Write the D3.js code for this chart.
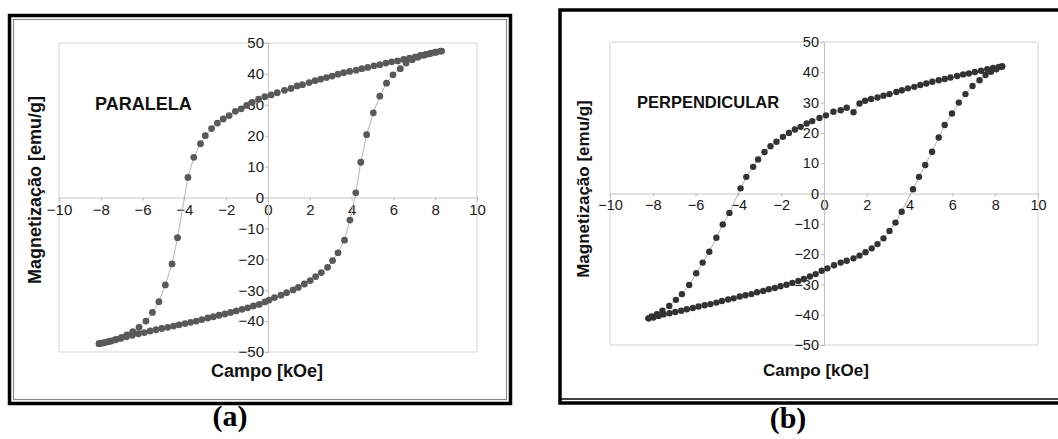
<!DOCTYPE html>
<html lang="pt">
<head>
<meta charset="UTF-8">
<title>Curvas de histerese - paralela e perpendicular</title>
<script src="https://d3js.org/d3.v7.min.js"></script>
<style>
  body { margin: 0; background: #fff; }
  .tick text { font-family: "Liberation Sans", Arial, sans-serif; fill: #1a1a1a; }
  .tick line { stroke: #b8b8b8; }
  .title { font-family: "Liberation Sans", Arial, sans-serif; font-weight: bold; fill: #111; }
  .caption { font-family: "Liberation Serif", "Times New Roman", serif; font-weight: bold; fill: #000; }
  .loop { fill: none; stroke: #b4b4b4; stroke-width: 1; }
</style>
</head>
<body>
<svg id="fig" width="1058" height="439"></svg>
<script>
// tick values shared by both panels
const xTicks = [-10, -8, -6, -4, -2, 0, 2, 4, 6, 8, 10];
const yTicks = [-50, -40, -30, -20, -10, 0, 10, 20, 30, 40, 50];

// (a) PARALELA - [campo kOe, magnetizacao emu/g], branch coming down from +H
const paralelaDesc = [
  [8.31, 47.4], [8.05, 47.0], [7.8, 46.7], [7.55, 46.3], [7.3, 46.0], [7.05, 45.5], [6.77, 45.1],
  [6.49, 44.7], [6.2, 44.2], [5.92, 43.9], [5.64, 43.5], [5.35, 43.0], [5.07, 42.6], [4.77, 42.1],
  [4.49, 41.7], [4.22, 41.2], [3.91, 40.8], [3.62, 40.4], [3.35, 39.9], [3.07, 39.3], [2.8, 38.8],
  [2.52, 38.3], [2.25, 37.8], [1.97, 37.2], [1.65, 36.5], [1.39, 36.1], [1.1, 35.3], [0.79, 34.7],
  [0.44, 33.9], [0.15, 33.2], [-0.15, 32.6], [-0.45, 31.8], [-0.75, 30.8], [-1.02, 29.8],
  [-1.28, 28.7], [-1.56, 27.9], [-1.86, 26.5], [-2.14, 25.4], [-2.42, 24.1], [-2.7, 22.3],
  [-3.0, 20.0], [-3.23, 17.4], [-3.55, 13.0], [-3.83, 6.5], [-4.33, -13.0], [-4.59, -21.5],
  [-4.91, -28.3], [-5.22, -33.7], [-5.53, -37.2], [-5.84, -40.0], [-6.17, -42.0], [-6.47, -43.4],
  [-6.75, -44.5], [-7.0, -45.3], [-7.25, -45.9], [-7.5, -46.4], [-7.72, -46.8], [-7.92, -47.1],
  [-8.08, -47.3]
];
// (a) branch going back up from -H
const paralelaAsc = [
  [-8.08, -47.3], [-7.85, -47.0], [-7.6, -46.6], [-7.32, -46.1], [-7.05, -45.6], [-6.77, -45.1],
  [-6.49, -44.6], [-6.2, -44.1], [-5.92, -43.7], [-5.64, -43.2], [-5.36, -42.8], [-5.08, -42.4],
  [-4.8, -42.0], [-4.52, -41.6], [-4.25, -41.2], [-3.97, -40.8], [-3.7, -40.4], [-3.43, -40.0],
  [-3.16, -39.5], [-2.88, -39.0], [-2.61, -38.6], [-2.34, -38.1], [-2.06, -37.7], [-1.79, -37.2],
  [-1.52, -36.7], [-1.24, -36.2], [-0.97, -35.7], [-0.7, -35.1], [-0.42, -34.6], [-0.15, -33.8],
  [0.05, -33.2], [0.31, -32.4], [0.62, -31.6], [0.89, -30.8], [1.2, -29.9], [1.45, -29.1],
  [1.74, -28.0], [2.02, -26.9], [2.28, -25.6], [2.55, -24.3], [2.85, -22.6], [3.09, -20.4],
  [3.35, -17.9], [3.66, -13.8], [3.92, -7.3], [4.2, 1.5], [4.44, 11.4], [4.72, 20.3], [5.04, 27.4],
  [5.35, 32.8], [5.67, 37.0], [5.98, 39.7], [6.33, 41.7], [6.61, 43.5], [6.9, 44.6], [7.17, 45.4],
  [7.45, 46.0], [7.72, 46.5], [8.0, 47.0], [8.25, 47.4]
];

// (b) PERPENDICULAR
const perpDesc = [
  [8.33, 42.0], [8.17, 41.8], [7.9, 41.4], [7.63, 41.0], [7.34, 40.5], [7.05, 40.1], [6.77, 39.6],
  [6.5, 39.3], [6.22, 38.8], [5.91, 38.3], [5.64, 37.8], [5.36, 37.4], [5.06, 36.9], [4.78, 36.3],
  [4.5, 35.8], [4.22, 35.2], [3.92, 34.7], [3.64, 34.1], [3.38, 33.5], [3.06, 32.8], [2.78, 32.3],
  [2.5, 31.7], [2.2, 31.2], [1.92, 30.6], [1.66, 29.7], [1.38, 26.8], [1.06, 28.3], [0.78, 27.5],
  [0.44, 27.0], [0.09, 25.8], [-0.21, 24.9], [-0.55, 23.9], [-0.81, 23.1], [-1.09, 22.0],
  [-1.36, 21.1], [-1.64, 20.0], [-1.92, 18.7], [-2.22, 17.1], [-2.5, 15.6], [-2.78, 13.7],
  [-3.08, 11.2], [-3.31, 8.8], [-3.63, 5.5], [-3.9, 1.7], [-4.42, -6.4], [-4.73, -10.2],
  [-5.03, -14.6], [-5.36, -19.2], [-5.67, -22.8], [-5.97, -26.3], [-6.3, -30.2], [-6.64, -33.2],
  [-6.92, -35.1], [-7.23, -37.1], [-7.55, -38.7], [-7.81, -39.8], [-8.05, -40.6], [-8.2, -41.2]
];
const perpAsc = [
  [-8.2, -41.2], [-7.97, -40.9], [-7.73, -40.4], [-7.5, -39.9], [-7.22, -39.5], [-6.95, -39.1],
  [-6.67, -38.7], [-6.41, -38.2], [-6.13, -37.8], [-5.86, -37.3], [-5.58, -36.9], [-5.31, -36.5],
  [-5.03, -36.0], [-4.77, -35.5], [-4.48, -35.0], [-4.22, -34.6], [-3.94, -34.0], [-3.67, -33.6],
  [-3.39, -33.2], [-3.13, -32.6], [-2.84, -32.2], [-2.58, -31.6], [-2.3, -31.2], [-2.03, -30.6],
  [-1.75, -30.1], [-1.48, -29.5], [-1.2, -28.9], [-0.94, -28.2], [-0.66, -27.4], [-0.39, -26.6],
  [-0.11, -25.5], [0.16, -24.7], [0.47, -23.7], [0.78, -22.8], [1.06, -22.2], [1.38, -21.4],
  [1.66, -20.5], [1.94, -19.4], [2.23, -18.1], [2.5, -16.7], [2.78, -14.8], [3.06, -12.4],
  [3.34, -9.6], [3.63, -6.0], [4.16, 1.4], [4.44, 5.5], [4.73, 9.4], [5.05, 13.8], [5.36, 18.5],
  [5.64, 22.6], [5.98, 26.4], [6.3, 30.0], [6.61, 32.8], [6.94, 35.5], [7.27, 37.4], [7.55, 39.1],
  [7.8, 40.2], [8.05, 41.0], [8.3, 41.8]
];

const svg = d3.select("#fig");

const panels = [
  {
    name: "PARALELA", caption: "(a)", series: [paralelaDesc, paralelaAsc],
    frame: { x: 9.5, y: 15.5, w: 501, h: 388 }, inner: 4,
    plot: { left: 59, right: 477, top: 43, bottom: 352 },
    tickFont: 15, tickSize: 3, xPad: 4, yPad: 1,
    label: { x: 95, y: 110, size: 18 },
    xTitle: { x: 267, y: 377, size: 18 }, yTitle: { x: 35, y: 190, size: 18 },
    cap: { x: 230, y: 426 }, dot: "#595959", r: 3.4
  },
  {
    name: "PERPENDICULAR", caption: "(b)", series: [perpDesc, perpAsc],
    frame: { x: 560, y: 10, w: 510, h: 393 }, inner: 0,
    plot: { left: 610, right: 1038, top: 42, bottom: 345 },
    tickFont: 14.5, tickSize: 3, xPad: 3, yPad: 2,
    label: { x: 637, y: 108, size: 16.5 },
    xTitle: { x: 816, y: 376, size: 17 }, yTitle: { x: 583, y: 189, size: 17 },
    cap: { x: 788, y: 428 }, dot: "#333333", r: 3.2
  }
];

panels.forEach(p => {
  const g = svg.append("g");

  // outer black frame
  g.append("rect")
    .attr("x", p.frame.x).attr("y", p.frame.y)
    .attr("width", p.frame.w).attr("height", p.frame.h)
    .attr("fill", "none").attr("stroke", "#000").attr("stroke-width", 3.5);
  if (p.inner) {
    g.append("rect")
      .attr("x", p.frame.x + p.inner).attr("y", p.frame.y + p.inner)
      .attr("width", p.frame.w - 2 * p.inner).attr("height", p.frame.h - 2 * p.inner)
      .attr("fill", "none").attr("stroke", "#8a8a8a").attr("stroke-width", 1.2);
  } else {
    g.append("line")
      .attr("x1", p.frame.x).attr("x2", 1058)
      .attr("y1", p.frame.y + p.frame.h - 4).attr("y2", p.frame.y + p.frame.h - 4)
      .attr("stroke", "#000").attr("stroke-width", 1.3);
  }

  const x = d3.scaleLinear().domain([-10, 10]).range([p.plot.left, p.plot.right]);
  const y = d3.scaleLinear().domain([-50, 50]).range([p.plot.bottom, p.plot.top]);

  // light grey plot box
  g.append("rect")
    .attr("x", p.plot.left).attr("y", p.plot.top)
    .attr("width", p.plot.right - p.plot.left).attr("height", p.plot.bottom - p.plot.top)
    .attr("fill", "none").attr("stroke", "#d6d6d6").attr("stroke-width", 1);

  const xAxis = g.append("g")
    .attr("transform", "translate(0," + y(0) + ")")
    .call(d3.axisBottom(x).tickValues(xTicks).tickSize(p.tickSize).tickPadding(p.xPad));
  const yAxis = g.append("g")
    .attr("transform", "translate(" + x(0) + ",0)")
    .call(d3.axisLeft(y).tickValues(yTicks).tickSize(p.tickSize).tickPadding(p.yPad));
  [xAxis, yAxis].forEach(a => {
    a.select(".domain").attr("stroke", "#c4c4c4");
    a.selectAll(".tick text").style("font-size", p.tickFont + "px");
  });

  // thin connecting line + markers
  const line = d3.line().x(d => x(d[0])).y(d => y(d[1]));
  p.series.forEach(s => {
    g.append("path").attr("class", "loop").attr("d", line(s));
  });
  p.series.forEach(s => {
    g.selectAll(null).data(s).enter().append("circle")
      .attr("cx", d => x(d[0])).attr("cy", d => y(d[1]))
      .attr("r", p.r).attr("fill", p.dot);
  });

  g.append("text").attr("class", "title")
    .attr("x", p.label.x).attr("y", p.label.y)
    .style("font-size", p.label.size + "px").text(p.name);

  g.append("text").attr("class", "title")
    .attr("x", p.xTitle.x).attr("y", p.xTitle.y)
    .attr("text-anchor", "middle")
    .style("font-size", p.xTitle.size + "px").text("Campo [kOe]");

  g.append("text").attr("class", "title")
    .attr("transform", "translate(" + p.yTitle.x + "," + p.yTitle.y + ") rotate(-90)")
    .attr("text-anchor", "middle").attr("dy", "0.35em")
    .style("font-size", p.yTitle.size + "px").text("Magnetização [emu/g]");

  svg.append("text").attr("class", "caption")
    .attr("x", p.cap.x).attr("y", p.cap.y)
    .attr("text-anchor", "middle").style("font-size", "30px")
    .text(p.caption);
});
</script>
</body>
</html>
